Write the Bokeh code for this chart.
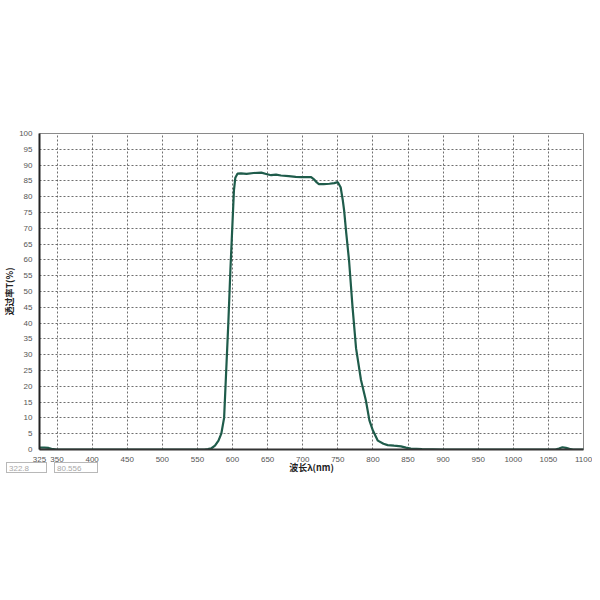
from bokeh.plotting import figure
from bokeh.models import ColumnDataSource, FixedTicker, Range1d, Div
from bokeh.layouts import column
from bokeh.embed import file_html
from bokeh.resources import INLINE

# Transmittance spectrum
wavelength = [325, 332, 338, 342, 350, 400, 500, 550, 560, 565, 570, 575, 580, 584,
              588, 591, 594, 597, 600, 602, 604, 607, 612, 620, 630, 641, 648, 655,
              662, 669, 680, 690, 698, 712, 716, 720, 723, 730, 738, 745, 750, 754,
              757, 759, 762, 766, 771, 776, 783, 790, 795, 800, 807, 815, 821, 830,
              840, 847, 854, 870, 900, 950, 1000, 1050, 1060, 1065, 1070, 1075, 1080,
              1085, 1100]
transmittance = [0.6, 0.6, 0.5, 0.2, 0.0, 0.0, 0.0, 0.0, 0.0, 0.1, 0.4, 1.2, 2.8, 5.0,
                 10.0, 25.0, 40.0, 57.0, 72.0, 82.0, 86.0, 87.3, 87.4, 87.2, 87.5, 87.6,
                 87.2, 86.8, 87.0, 86.7, 86.5, 86.3, 86.2, 86.2, 85.5, 84.5, 84.0, 84.0,
                 84.1, 84.3, 84.6, 83.0, 79.0, 75.6, 68.5, 59.8, 45.0, 32.0, 22.0, 15.5,
                 9.2, 6.0, 2.8, 1.8, 1.4, 1.2, 1.0, 0.6, 0.3, 0.1, 0.0, 0.0, 0.0, 0.0,
                 0.0, 0.3, 0.7, 0.5, 0.2, 0.0, 0.0]

x_ticks = [325, 350, 400, 450, 500, 550, 600, 650, 700, 750, 800, 850, 900, 950, 1000, 1050, 1100]
y_ticks = list(range(0, 105, 5))
x_label = "波长λ(nm)"
y_label = "透过率T(%)"
box_values = ["322.8", "80.556"]

p = figure(width=592, height=480, output_backend="svg", toolbar_location=None,
           x_range=Range1d(325, 1100), y_range=Range1d(0, 100),
           min_border_left=30, min_border_right=9, min_border_top=133,
           min_border_bottom=31)

src = ColumnDataSource(dict(x=wavelength, y=transmittance))
p.line("x", "y", source=src, line_color="#1f5c4b", line_width=2.2)

p.outline_line_color = "#8a8a8a"
p.outline_line_width = 1

# grid
p.xgrid.ticker = FixedTicker(ticks=x_ticks[1:-1])
p.ygrid.ticker = FixedTicker(ticks=y_ticks[1:-1])
for g in (p.xgrid, p.ygrid):
    g.grid_line_color = "#555555"
    g.grid_line_dash = "2 2"
    g.grid_line_width = 1
    g.grid_line_alpha = 0.85

# axes
p.xaxis.ticker = FixedTicker(ticks=x_ticks)
p.yaxis.ticker = FixedTicker(ticks=y_ticks)
for ax in (p.xaxis, p.yaxis):
    ax.major_tick_line_color = None
    ax.minor_tick_line_color = None
    ax.major_label_text_font = "Liberation Sans"
    ax.major_label_text_font_size = "8px"
    ax.major_label_text_color = "#555555"
    ax.major_label_standoff = 1
    ax.axis_label_text_font = "Noto Sans CJK SC"
    ax.axis_label_text_font_size = "9px"
    ax.axis_label_text_font_style = "bold"
    ax.axis_label_text_color = "#222222"
p.xaxis.axis_line_color = "#333333"
p.xaxis.axis_line_width = 2
p.yaxis.axis_line_color = "#222222"
p.yaxis.axis_line_width = 2
p.xaxis.axis_label = x_label
p.yaxis.axis_label = y_label
p.xaxis.axis_label_standoff = -4
p.yaxis.axis_label_standoff = 0

# the two read-out boxes under the axis
box_style = ("position:absolute;top:0;height:11px;border:1px solid #b8b8b8;"
             "padding-left:2px;line-height:11px;")
html = ('<div style="position:relative;width:120px;height:14px;'
        'font-family:\'Liberation Sans\';font-size:8px;color:#a8a8a8;">'
        f'<span style="{box_style}left:6px;width:41px;">{box_values[0]}</span>'
        f'<span style="{box_style}left:54px;width:44px;">{box_values[1]}</span>'
        '</div>')
boxes = Div(text=html, width=120, height=14, margin=(-18, 0, 0, 0))

layout = column(p, boxes)
open("out.html", "w").write(file_html(layout, INLINE))
